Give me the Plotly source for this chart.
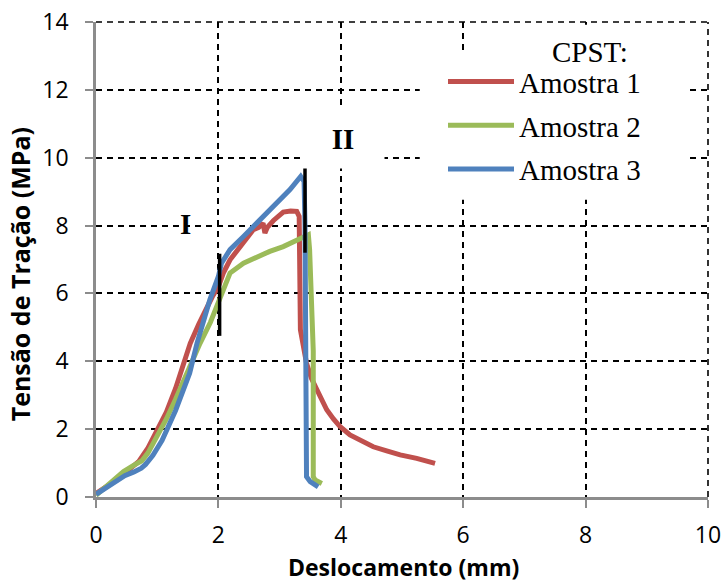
import plotly.graph_objects as go

# ---- data ----
names = ["Amostra 1", "Amostra 2", "Amostra 3"]
colors = ["#C0504D", "#9BBB59", "#4F81BD"]

a1_x = [0, 0.25, 0.5, 0.7, 0.85, 1.0, 1.15, 1.3, 1.42, 1.54, 1.68, 1.81, 1.9, 2.0, 2.08,
        2.19, 2.35, 2.57, 2.66, 2.73, 2.76, 2.8, 2.9, 3.06, 3.18, 3.28, 3.32, 3.33, 3.34,
        3.44, 3.52, 3.61, 3.69, 3.77, 3.88, 3.99, 4.15, 4.3, 4.53, 4.75, 4.97, 5.24, 5.4, 5.54]
a1_y = [0.1, 0.4, 0.75, 1.05, 1.45, 1.95, 2.5, 3.2, 3.9, 4.53, 5.1, 5.61, 5.9, 6.2, 6.6,
        6.99, 7.38, 7.88, 7.95, 8.07, 7.78, 7.95, 8.15, 8.4, 8.43, 8.42, 8.27, 7.0, 4.93,
        3.94, 3.5, 3.16, 2.85, 2.57, 2.3, 2.07, 1.83, 1.7, 1.48, 1.36, 1.24, 1.14, 1.07, 0.99]

a2_x = [0, 0.25, 0.45, 0.6, 0.75, 0.85, 1.0, 1.15, 1.3, 1.5, 1.7, 1.87, 2.0, 2.1, 2.19,
        2.41, 2.63, 2.84, 3.06, 3.28, 3.44, 3.47, 3.49, 3.5, 3.53, 3.55, 3.55, 3.58, 3.69]
a2_y = [0.05, 0.45, 0.75, 0.92, 1.07, 1.3, 1.78, 2.3, 2.88, 3.75, 4.53, 5.15, 5.75, 6.2, 6.6,
        6.89, 7.09, 7.24, 7.38, 7.58, 7.7, 7.73, 7.3, 6.3, 5.3, 4.3, 0.6, 0.5, 0.4]

a3_x = [0, 0.25, 0.47, 0.62, 0.74, 0.81, 0.93, 1.08, 1.3, 1.53, 1.65, 1.86, 2.0, 2.05,
        2.19, 2.41, 2.73, 2.9, 3.17, 3.345, 3.4, 3.415, 3.42, 3.44, 3.5, 3.63]
a3_y = [0.08, 0.35, 0.63, 0.74, 0.85, 0.96, 1.23, 1.67, 2.55, 3.65, 4.53, 5.81, 6.5, 6.89,
        7.29, 7.68, 8.27, 8.56, 9.06, 9.45, 9.3, 8.0, 0.75, 0.6, 0.45, 0.3]

# regime separators (vertical black bars) and labels
sep_x = [2.02, 3.415]
sep_y0 = [4.75, 7.2]
sep_y1 = [7.17, 10.18]
region_labels = ["I", "II"]
region_x = [1.47, 4.04]
region_y = [8.05, 10.56]

x_ticks = [0, 2, 4, 6, 8, 10]
y_ticks = [0, 2, 4, 6, 8, 10, 12, 14]

fig = go.Figure()
for xs, ys, nm, c in zip([a1_x, a2_x, a3_x], [a1_y, a2_y, a3_y], names, colors):
    fig.add_trace(go.Scatter(x=xs, y=ys, name=nm, mode="lines", legendgroup=nm,
                             line=dict(color=c, width=5)))

for sx, s0, s1 in zip(sep_x, sep_y0, sep_y1):
    fig.add_trace(go.Scatter(x=[sx, sx], y=[s0, s1], mode="lines", showlegend=False,
                             line=dict(color="black", width=3.5), hoverinfo="skip"))

serif = "Liberation Serif"
sans = "Open Sans"

fig.add_annotation(x=region_x[0], y=region_y[0], xref="x", yref="y",
                   text="<b>" + region_labels[0] + "</b>", showarrow=False,
                   xanchor="center", yanchor="middle",
                   font=dict(family=serif, size=29, color="black"))
fig.add_annotation(x=region_x[1], y=region_y[1], xref="x", yref="y",
                   text="<b>" + region_labels[1] + "</b>", showarrow=False,
                   xanchor="center", yanchor="middle",
                   font=dict(family=serif, size=29, color="black"),
                   bgcolor="white", width=80, height=56)

# white panels behind legend and its title (hide the grid there)
fig.add_shape(type="rect", xref="x", yref="y", layer="between",
              x0=5.29, x1=9.66, y0=8.76, y1=13.1,
              fillcolor="white", line=dict(width=0))
fig.add_shape(type="rect", xref="x", yref="y", layer="between",
              x0=6.55, x1=9.66, y0=13.0, y1=13.92,
              fillcolor="white", line=dict(width=0))

# dashed frame on the top and right
fig.add_shape(type="line", xref="x domain", yref="y domain", x0=0, x1=1, y0=1, y1=1,
              line=dict(color="black", width=1.6, dash="6px,5px"))
fig.add_shape(type="line", xref="x domain", yref="y domain", x0=1, x1=1, y0=0, y1=1,
              line=dict(color="black", width=1.6, dash="6px,5px"))

# legend title
fig.add_annotation(x=0.808, y=0.937, xref="paper", yref="paper", text="CPST:",
                   xanchor="center", yanchor="middle",
                   showarrow=False, font=dict(family=serif, size=29, color="black"))

# axis titles
fig.add_annotation(x=0.503, y=-0.148, xref="paper", yref="paper",
                   xanchor="center", yanchor="middle",
                   text="<b>Deslocamento (mm)</b>", showarrow=False,
                   font=dict(family=sans, size=23, color="black"))
fig.add_annotation(x=-0.124, y=0.469, xref="paper", yref="paper", textangle=-90,
                   xanchor="center", yanchor="middle",
                   text="<b>Tensão de Tração (MPa)</b>", showarrow=False,
                   font=dict(family=sans, size=25, color="black"))

axis_common = dict(showgrid=True, gridcolor="black", griddash="6px,5px", gridwidth=1.6,
                   showline=True, linecolor="#8c8c8c", linewidth=2.5, zeroline=False,
                   ticks="outside", ticklen=8, tickwidth=2, tickcolor="#8c8c8c",
                   automargin=False,
                   tickfont=dict(family=sans, size=23, color="black"))

fig.update_xaxes(range=[0, 10], tickvals=x_ticks, ticklabelstandoff=8, **axis_common)
fig.update_yaxes(range=[0, 14], tickvals=y_ticks, ticklabelstandoff=12, **axis_common)

fig.update_layout(
    width=722, height=585,
    margin=dict(l=96, r=14, t=22, b=88),
    plot_bgcolor="white", paper_bgcolor="white",
    showlegend=True,
    legend=dict(x=0.567, y=0.928, xanchor="left", yanchor="top",
                bgcolor="rgba(0,0,0,0)", borderwidth=0, traceorder="grouped",
                tracegroupgap=3, itemwidth=66,
                font=dict(family=serif, size=29, color="black")),
)

fig.write_html("out.html")
